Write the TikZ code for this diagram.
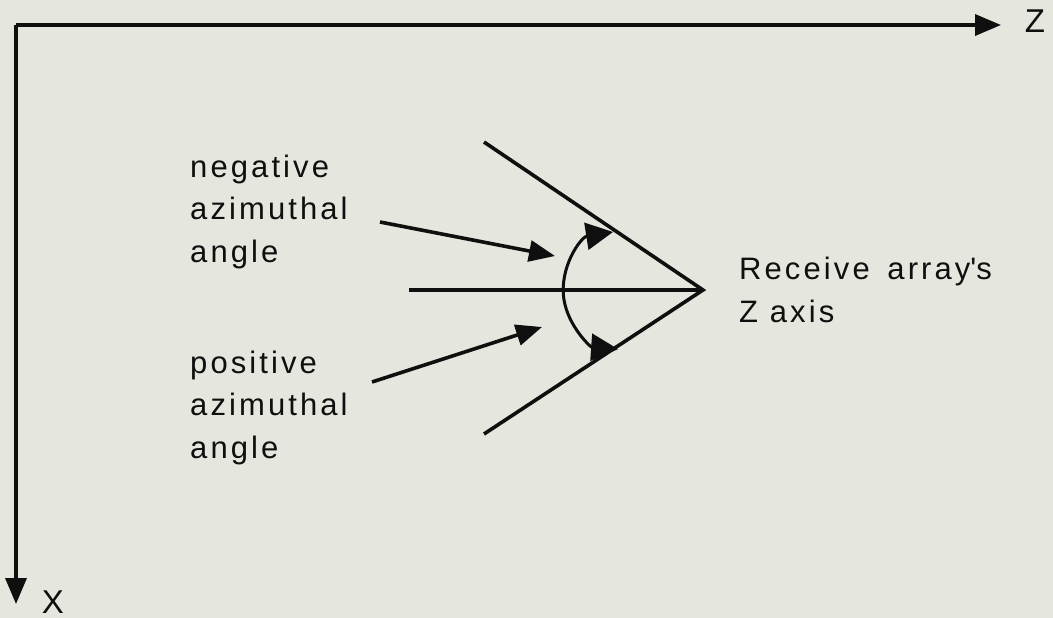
\documentclass[tikz,border=0pt]{standalone}
\usepackage{fontspec}
\setmainfont{Liberation Sans}[LetterSpace=10]
\usetikzlibrary{arrows.meta}
\definecolor{paper}{RGB}{229,230,222}
\definecolor{ink}{RGB}{15,15,15}
\tikzset{
  ln/.style={line width=3.6pt, draw=ink},
  tri/.style={ln, -{Triangle[length=26pt,width=21pt]}},
  lbl/.style={inner sep=0pt, font=\fontsize{31}{42.5}\selectfont, text=ink, align=left},
  axlbl/.style={inner sep=0pt, font=\fontsize{33}{33}\selectfont, text=ink}
}
\begin{document}
\begin{tikzpicture}[x=1pt,y=-1pt]
\fill[paper] (0,0) rectangle (1053,618);
\useasboundingbox (0,0) rectangle (1053,618);
% axes
\coordinate (O) at (16,25);
\coordinate (Zend) at (1001,25);
\coordinate (Xend) at (16,604);
\draw[tri] (O) -- (Zend);
\draw[tri] (O) -- (Xend);
\node[axlbl, anchor=base] (zl) at (1035,33) {Z};
\node[axlbl, anchor=base] (xl) at (53,613) {X};
% array lines
\coordinate (V) at (703,290);
\coordinate (U) at (484,142);
\coordinate (L) at (484,434);
\coordinate (M) at (409,290);
\draw[ln, line join=miter] (U) -- (V) -- (L);
\draw[ln] (M) -- (V);
% angle arc
\coordinate (AU) at (613,232);
\draw[line width=3pt, draw=ink, {Triangle[length=27pt,width=27pt]}-{Triangle[length=27pt,width=27pt]}] (AU) arc[start angle=261, end angle=94, radius=59];
% labels
\node[lbl, anchor=base west] (neg) at (190,262) {negative\\azimuthal\\angle};
\node[lbl, anchor=base west] (pos) at (190,458) {positive\\azimuthal\\angle};
\node[lbl, anchor=base west] (rcv) at (739,322) {Receive\hspace{6pt} array\textquotesingle s\\Z axis};
% pointers
\coordinate (n0) at (380,222);
\coordinate (n1) at (555,256);
\coordinate (p0) at (372,382);
\coordinate (p1) at (542,327);
\draw[tri] (n0) -- (n1);
\draw[tri] (p0) -- (p1);
\end{tikzpicture}
\end{document}
